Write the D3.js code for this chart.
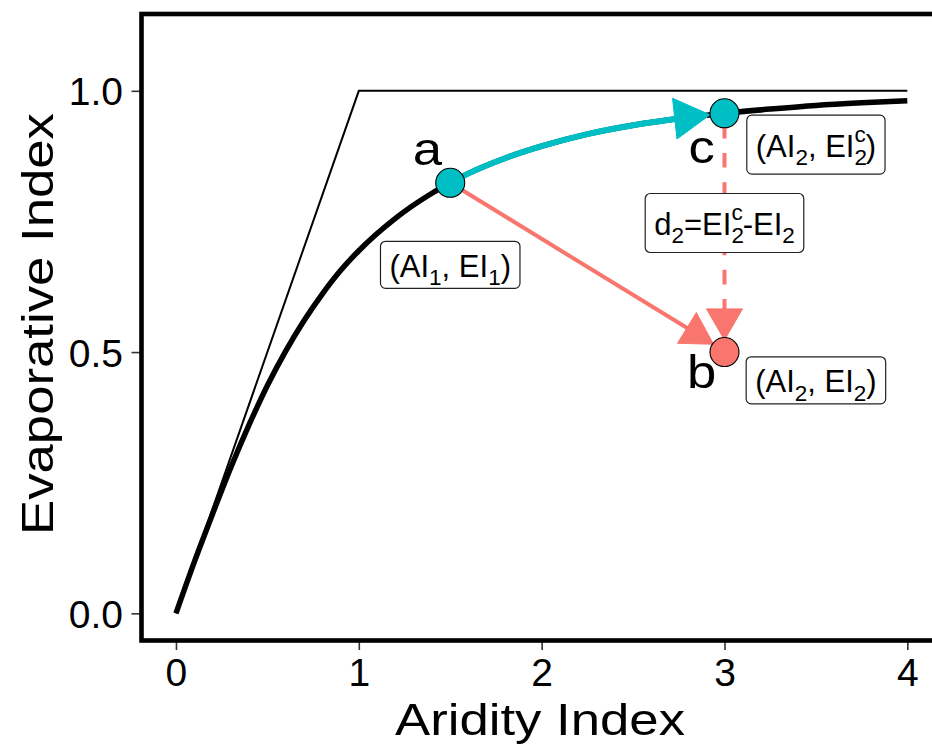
<!DOCTYPE html>
<html>
<head>
<meta charset="utf-8">
<script src="https://cdn.jsdelivr.net/npm/d3@7"></script>
<style>
  html, body { margin: 0; padding: 0; background: #fff; }
  svg { display: block; font-family: "Liberation Sans", Arial, sans-serif; }
</style>
</head>
<body>
<svg id="chart" width="932" height="749"></svg>
<script>
// Budyko curve, sampled along the aridity axis
const aridity     = [0, 0.1, 0.2, 0.3, 0.4, 0.5, 0.6, 0.7, 0.8, 0.9, 1.0, 1.2, 1.4, 1.5, 1.6, 1.8, 2.0, 2.25, 2.5, 2.75, 3.0, 3.25, 3.5, 3.75, 4.0];
const evaporative = [0, 0.098, 0.190, 0.279, 0.361, 0.436, 0.502, 0.560, 0.611, 0.656, 0.694, 0.756, 0.804, 0.824, 0.842, 0.871, 0.894, 0.917, 0.934, 0.947, 0.957, 0.965, 0.972, 0.977, 0.981];

// energy and water limits
const limitX = [0, 1, 4];
const limitY = [0, 1, 1];

// the three states
const pointNames = ["a", "b", "c"];
const pointX = [1.5, 3, 3];
const pointY = [0.824, 0.5, 0.957];
const pointColor = ["#00BFC4", "#F8766D", "#00BFC4"];

// letter tags next to the states
const letterX = [1.375, 2.875, 2.875];
const letterY = [0.858, 0.431, 0.862];

// arrows: a -> c along the curve, a -> b, c -> b (dashed)
const arrowFromX = [1.5, 1.5, 3];
const arrowFromY = [0.824, 0.824, 0.957];
const arrowToX   = [3, 2.94, 3];
const arrowToY   = [0.957, 0.515, 0.523];
const arrowColor = ["#00BFC4", "#F8766D", "#F8766D"];
const arrowOnCurve = [true, false, false];
const arrowDashed = [false, false, true];

// boxed annotations: [text, role] pieces
const labelX = [1.5, 3.5, 3, 3.5];
const labelY = [0.667, 0.897, 0.747, 0.446];
const labelParts = [
  [["(AI"], ["1", "sub"], [", EI"], ["1", "sub"], [")"]],
  [["(AI"], ["2", "sub"], [", EI"], ["2", "sub"], ["c", "sup"], [")"]],
  [["d"], ["2", "sub"], ["=EI"], ["2", "sub"], ["c", "sup"], ["-EI"], ["2", "sub"]],
  [["(AI"], ["2", "sub"], [", EI"], ["2", "sub"], [")"]]
];

const xTicks = [0, 1, 2, 3, 4];
const yTicks = [0, 0.5, 1.0];
const yTickLabels = ["0.0", "0.5", "1.0"];
const xTitle = "Aridity Index";
const yTitle = "Evaporative Index";

// ---------------------------------------------------------------
const svg = d3.select("#chart");
const panel = { left: 141.5, top: 14, right: 944, bottom: 640.5 };

const x = d3.scaleLinear().domain([-0.2, 4.2]).range([139.4, 943.9]);
const y = d3.scaleLinear().domain([-0.052, 1.147]).range([640.5, 14]);

const pointRadius = 14.5;

// ticks (drawn first so the frame sits on top of their inner ends)
const xAxis = svg.append("g")
  .attr("transform", `translate(0,${panel.bottom})`)
  .call(d3.axisBottom(x).tickValues(xTicks).tickSize(9.5).tickFormat(d3.format("d")));
const yAxis = svg.append("g")
  .attr("transform", `translate(${panel.left},0)`)
  .call(d3.axisLeft(y).tickValues(yTicks).tickSize(10).tickFormat((d, i) => yTickLabels[i]));

[xAxis, yAxis].forEach(g => {
  g.select(".domain").remove();
  g.selectAll(".tick line").attr("stroke", "#333").attr("stroke-width", 1.6);
  g.selectAll(".tick text")
    .attr("fill", "#000")
    .attr("font-size", 39)
    .attr("font-family", "'Liberation Sans', Arial, sans-serif");
});
xAxis.selectAll(".tick text").attr("y", 45.5).attr("dy", null);
yAxis.selectAll(".tick text").attr("x", -18.5).attr("dy", null).attr("y", 14);

// plot area
const plot = svg.append("g");

// limit lines
plot.append("path")
  .datum(d3.range(limitX.length))
  .attr("fill", "none")
  .attr("stroke", "#000")
  .attr("stroke-width", 2)
  .attr("d", d3.line().x(i => x(limitX[i])).y(i => y(limitY[i])));

// Budyko curve
const curveLine = d3.line().curve(d3.curveMonotoneX).x(i => x(aridity[i])).y(i => y(evaporative[i]));
plot.append("path")
  .datum(d3.range(aridity.length))
  .attr("fill", "none")
  .attr("stroke", "#000")
  .attr("stroke-width", 5.5)
  .attr("d", curveLine);

// arrows
function arrowHead(tip, ux, uy, len) {
  const a = Math.PI / 6;
  const c = Math.cos(a) * len, s = Math.sin(a) * len;
  const bx = tip[0] - ux * c, by = tip[1] - uy * c;
  return [tip, [bx - uy * s, by + ux * s], [bx + uy * s, by - ux * s]];
}

arrowFromX.forEach((_, i) => {
  const col = arrowColor[i];
  let tip, ux, uy, line, headLen;

  if (arrowOnCurve[i]) {
    // follow the Budyko curve and stop at the rim of the target point
    headLen = 41;
    const idx = d3.range(aridity.length)
      .filter(k => aridity[k] >= arrowFromX[i] && aridity[k] <= arrowToX[i]);
    line = plot.append("path")
      .datum(idx)
      .attr("d", curveLine)
      .attr("fill", "none")
      .attr("stroke", col)
      .attr("stroke-width", 6);
    const node = line.node();
    const total = node.getTotalLength();
    const tipLen = total - pointRadius;
    const pt = node.getPointAtLength(tipLen);
    const pb = node.getPointAtLength(tipLen - 3);
    tip = [pt.x, pt.y];
    const ex = pt.x - pb.x, ey = pt.y - pb.y, el = Math.hypot(ex, ey);
    ux = ex / el; uy = ey / el;
    const keep = tipLen - headLen * 0.6;
    line.attr("stroke-dasharray", `${keep} ${total}`);
  } else {
    headLen = 36;
    const p0 = [x(arrowFromX[i]), y(arrowFromY[i])];
    tip = [x(arrowToX[i]), y(arrowToY[i])];
    const dx = tip[0] - p0[0], dy = tip[1] - p0[1];
    const len = Math.hypot(dx, dy);
    ux = dx / len; uy = dy / len;
    const stop = headLen * 0.5;
    line = plot.append("path")
      .attr("d", d3.line()([p0, [tip[0] - ux * stop, tip[1] - uy * stop]]))
      .attr("fill", "none")
      .attr("stroke", col)
      .attr("stroke-width", 4);
    if (arrowDashed[i]) line.attr("stroke-dasharray", "14.6 14.6").attr("stroke-dashoffset", 18.7);
  }

  plot.append("path")
    .attr("d", d3.line()(arrowHead(tip, ux, uy, headLen)) + "Z")
    .attr("fill", col)
    .attr("stroke", col)
    .attr("stroke-width", 1);
});

// state points
plot.selectAll("circle.state")
  .data(pointNames)
  .join("circle")
  .attr("class", "state")
  .attr("cx", (d, i) => x(pointX[i]))
  .attr("cy", (d, i) => y(pointY[i]))
  .attr("r", pointRadius)
  .attr("fill", (d, i) => pointColor[i])
  .attr("stroke", "#000")
  .attr("stroke-width", 1.1);

// boxed annotations
const mainSize = 31, subSize = 22.5, subShift = 8.3, supShift = -15;
labelParts.forEach((parts, i) => {
  const g = plot.append("g");
  const cx = x(labelX[i]), cy = y(labelY[i]);
  const rect = g.append("rect");
  const text = g.append("text")
    .attr("x", cx)
    .attr("y", cy + 12)
    .attr("text-anchor", "middle")
    .attr("fill", "#000");
  let cur = 0, prev = null, hasSup = false;
  parts.forEach(([t, role]) => {
    const ts = text.append("tspan").text(t);
    if (role === "sub") {
      ts.attr("font-size", subSize).attr("dy", subShift - cur); cur = subShift;
    } else if (role === "sup") {
      hasSup = true;
      const back = prev ? prev.node().getComputedTextLength() : 0;
      ts.attr("font-size", subSize).attr("dy", supShift - cur).attr("dx", -back); cur = supShift;
    } else {
      ts.attr("font-size", mainSize).attr("dy", -cur); cur = 0;
    }
    prev = ts;
  });
  const w = text.node().getBBox().width + 18;
  const h = hasSup ? 59 : 47;
  rect.attr("x", cx - w / 2).attr("y", cy - h / 2)
    .attr("width", w).attr("height", h)
    .attr("rx", 5).attr("ry", 5)
    .attr("fill", "#fff")
    .attr("stroke", "#222")
    .attr("stroke-width", 1.2);
});

// letter tags
plot.selectAll("text.tag")
  .data(pointNames)
  .join("text")
  .attr("class", "tag")
  .attr("x", (d, i) => x(letterX[i]))
  .attr("y", (d, i) => y(letterY[i]))
  .attr("text-anchor", "middle")
  .attr("font-size", 47)
  .attr("fill", "#000")
  .text(d => d)
  .attr("textLength", function () { return this.getComputedTextLength() * 1.12; })
  .attr("lengthAdjust", "spacingAndGlyphs");

// panel frame
svg.append("rect")
  .attr("x", panel.left)
  .attr("y", panel.top)
  .attr("width", panel.right - panel.left + 20)
  .attr("height", panel.bottom - panel.top)
  .attr("fill", "none")
  .attr("stroke", "#000")
  .attr("stroke-width", 4.6);

// axis titles
svg.append("text")
  .attr("x", 540)
  .attr("y", 735)
  .attr("text-anchor", "middle")
  .attr("font-size", 45)
  .attr("fill", "#000")
  .attr("textLength", 290)
  .attr("lengthAdjust", "spacingAndGlyphs")
  .text(xTitle);

svg.append("text")
  .attr("transform", "translate(53,324) rotate(-90)")
  .attr("text-anchor", "middle")
  .attr("font-size", 45)
  .attr("fill", "#000")
  .attr("textLength", 422)
  .attr("lengthAdjust", "spacingAndGlyphs")
  .text(yTitle);
</script>
</body>
</html>
